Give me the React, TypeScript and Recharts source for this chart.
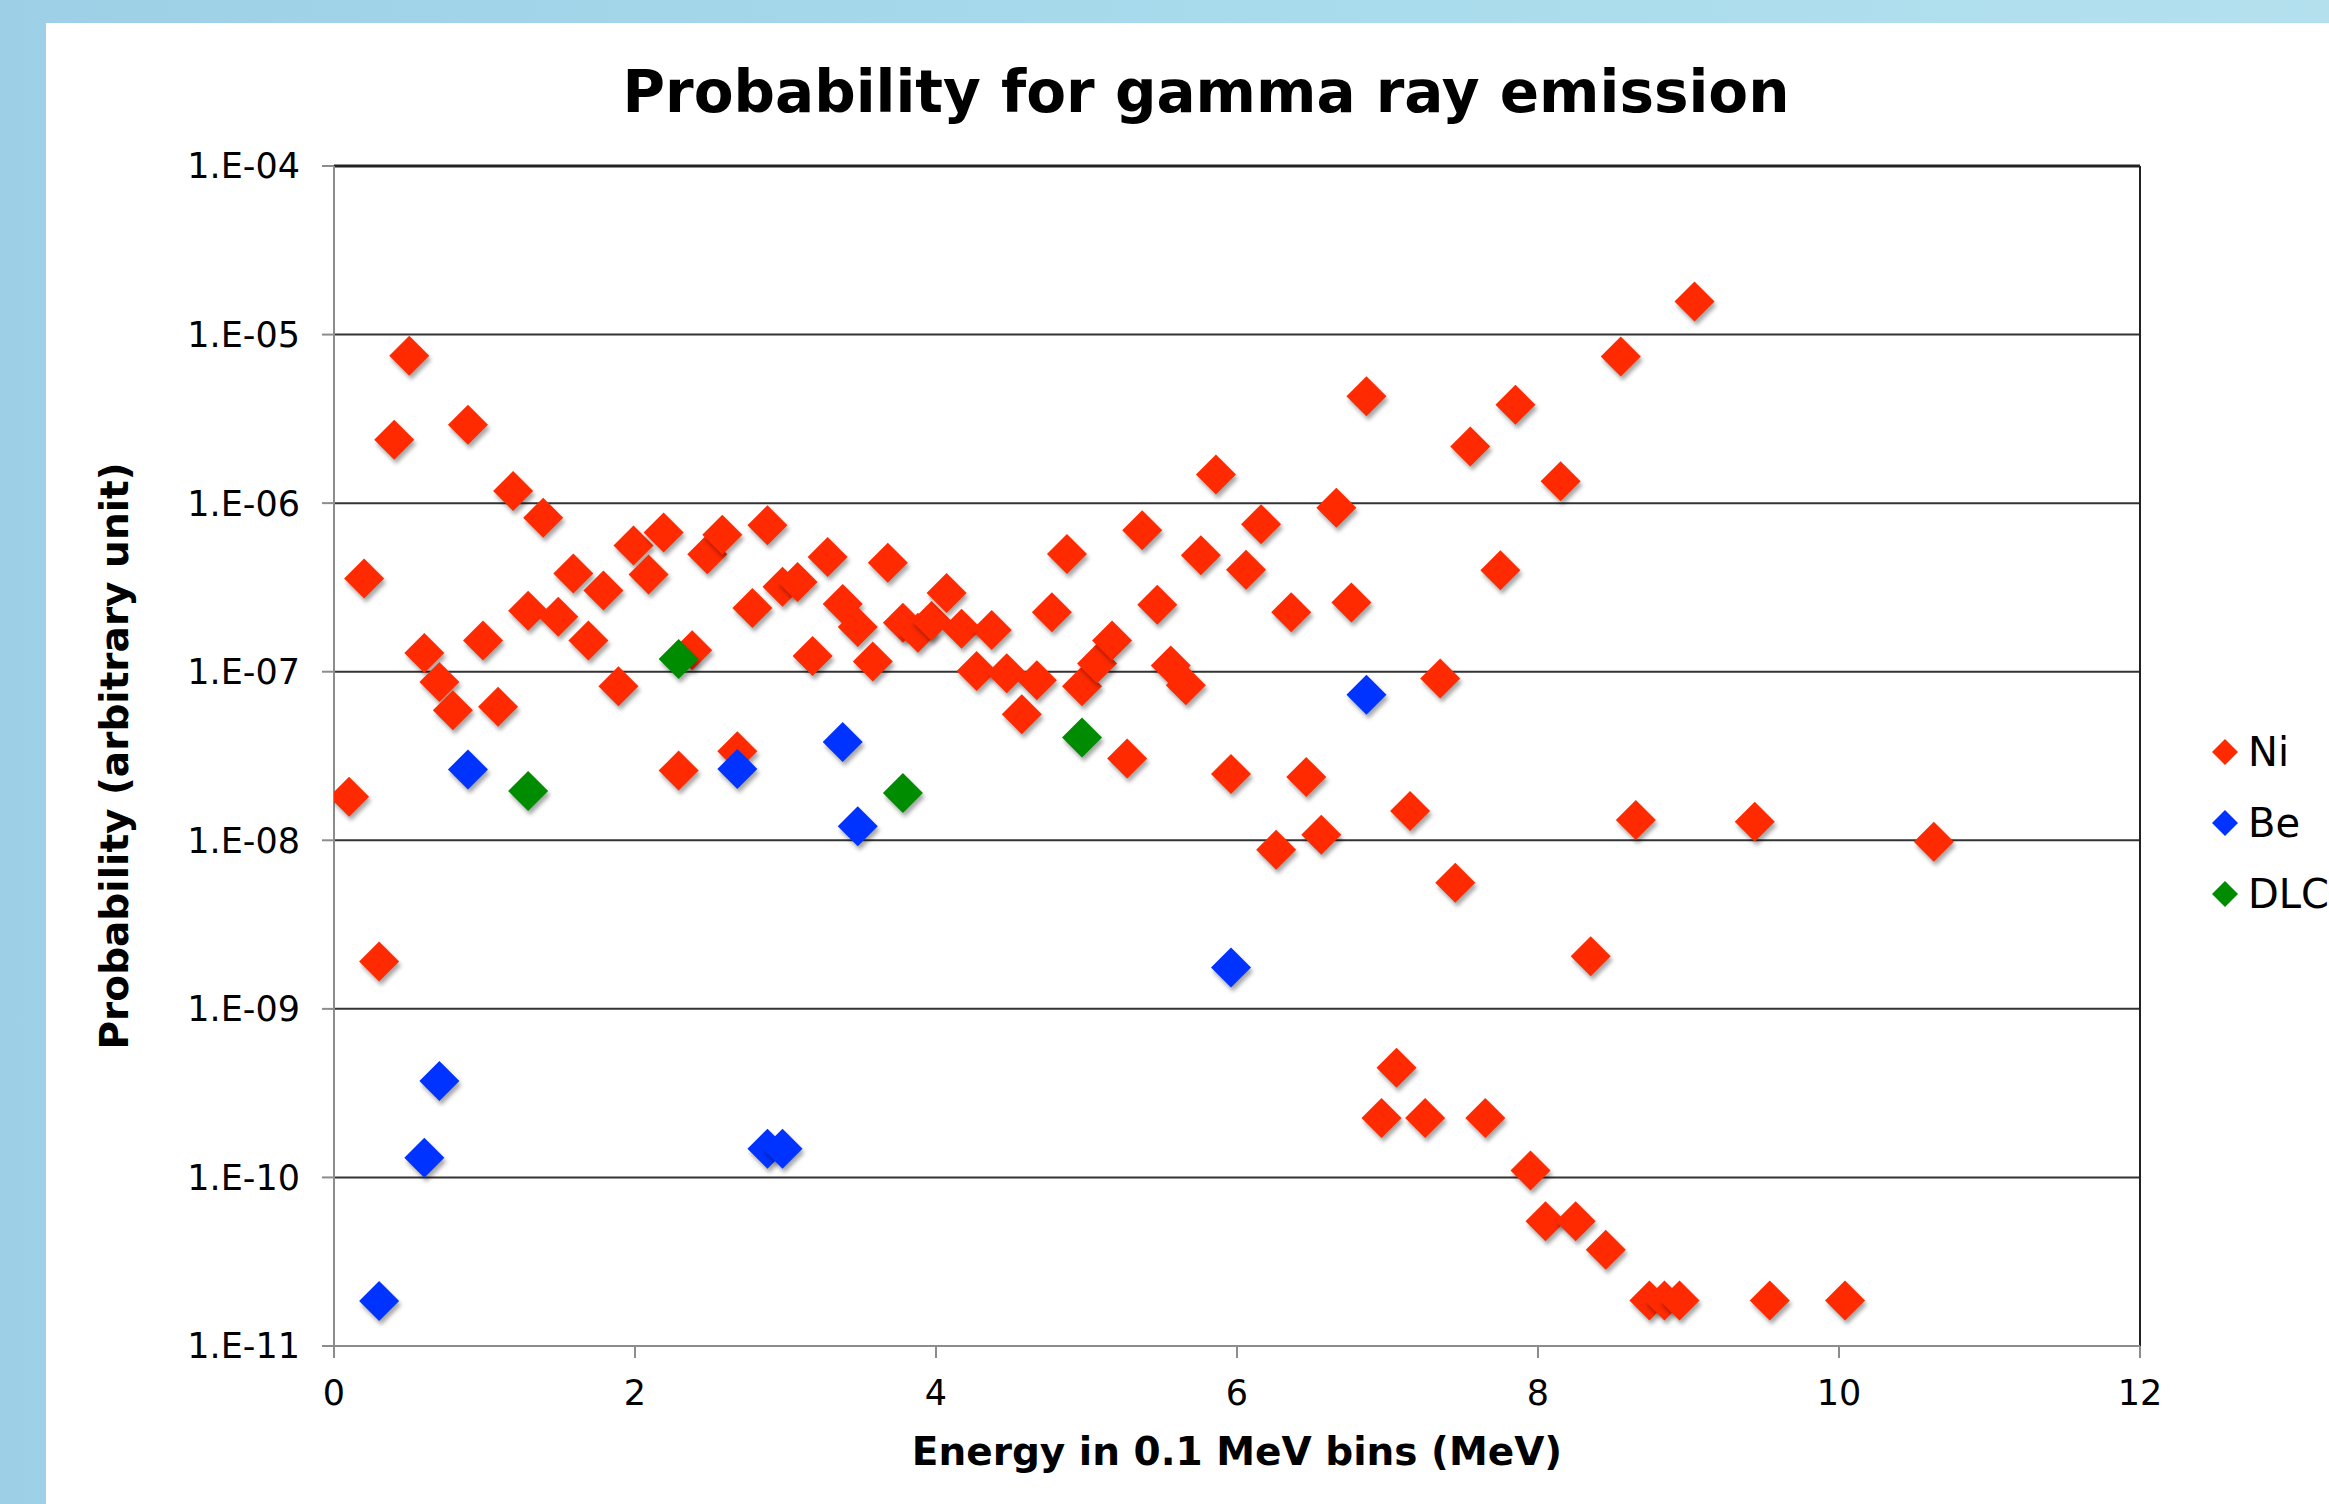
import React from 'react';
import { ScatterChart, Scatter, XAxis, YAxis, CartesianGrid, ReferenceLine } from 'recharts';

// ---- data ----
const niX = [0.10, 0.20, 0.30, 0.40, 0.50, 0.60, 0.70, 0.79, 0.89, 0.99, 1.09, 1.19, 1.29, 1.39, 1.49, 1.59, 1.69, 1.79, 1.89, 1.99, 2.09, 2.19, 2.29, 2.38, 2.48, 2.58, 2.68, 2.78, 2.88, 2.98, 3.08, 3.18, 3.28, 3.38, 3.48, 3.58, 3.68, 3.78, 3.88, 3.97, 4.07, 4.17, 4.27, 4.37, 4.47, 4.57, 4.67, 4.77, 4.87, 4.97, 5.07, 5.17, 5.27, 5.37, 5.47, 5.56, 5.66, 5.76, 5.86, 5.96, 6.06, 6.16, 6.26, 6.36, 6.46, 6.56, 6.66, 6.76, 6.86, 6.96, 7.06, 7.15, 7.25, 7.35, 7.45, 7.55, 7.65, 7.75, 7.85, 7.95, 8.05, 8.15, 8.25, 8.35, 8.45, 8.55, 8.65, 8.74, 8.84, 8.94, 9.04, 9.44, 9.54, 10.04, 10.63];
const niY = [1.81e-8, 3.57e-7, 1.91e-9, 2.38e-6, 7.5e-6, 1.29e-7, 8.7e-8, 5.9e-8, 2.92e-6, 1.53e-7, 6.2e-8, 1.18e-6, 2.3e-7, 8.2e-7, 2.12e-7, 3.83e-7, 1.53e-7, 3.03e-7, 8.2e-8, 5.6e-7, 3.77e-7, 6.7e-7, 2.59e-8, 1.34e-7, 4.98e-7, 6.5e-7, 3.37e-8, 2.39e-7, 7.4e-7, 3.19e-7, 3.41e-7, 1.24e-7, 4.8e-7, 2.52e-7, 1.84e-7, 1.15e-7, 4.43e-7, 1.95e-7, 1.7e-7, 2.0e-7, 2.93e-7, 1.8e-7, 1.01e-7, 1.77e-7, 9.8e-8, 5.6e-8, 8.9e-8, 2.25e-7, 5.0e-7, 8.2e-8, 1.12e-7, 1.53e-7, 3.06e-8, 6.9e-7, 2.5e-7, 1.09e-7, 8.3e-8, 4.9e-7, 1.48e-6, 2.47e-8, 4.03e-7, 7.5e-7, 8.8e-9, 2.25e-7, 2.37e-8, 1.08e-8, 9.4e-7, 2.57e-7, 4.3e-6, 2.25e-10, 4.47e-10, 1.49e-8, 2.25e-10, 9.1e-8, 5.6e-9, 2.17e-6, 2.25e-10, 4.0e-7, 3.84e-6, 1.1e-10, 5.5e-11, 1.35e-6, 5.5e-11, 2.05e-9, 3.72e-11, 7.4e-6, 1.32e-8, 1.86e-11, 1.86e-11, 1.86e-11, 1.57e-5, 1.29e-8, 1.86e-11, 1.86e-11, 9.8e-9];

const beX = [0.30, 0.60, 0.70, 0.89, 2.68, 2.88, 2.98, 3.38, 3.48, 5.96, 6.86];
const beY = [1.85e-11, 1.31e-10, 3.73e-10, 2.63e-8, 2.65e-8, 1.48e-10, 1.48e-10, 3.83e-8, 1.21e-8, 1.76e-9, 7.3e-8];

const dlcX = [1.29, 2.29, 3.78, 4.97];
const dlcY = [1.96e-8, 1.19e-7, 1.91e-8, 4.07e-8];

const seriesNames = ['Ni', 'Be', 'DLC'];
const seriesColors = ['#ff2a00', '#0033ff', '#008c00'];

const xTicks = [0, 2, 4, 6, 8, 10, 12];
const yTicks = [1e-11, 1e-10, 1e-9, 1e-8, 1e-7, 1e-6, 1e-5, 1e-4];
const yTickLabels = ['1.E-11', '1.E-10', '1.E-09', '1.E-08', '1.E-07', '1.E-06', '1.E-05', '1.E-04'];

const titleText = 'Probability for gamma ray emission';
const xTitle = 'Energy in 0.1 MeV bins (MeV)';
const yTitle = 'Probability (arbitrary unit)';

const toPoints = (xs: number[], ys: number[]) => xs.map((x, i) => ({ x, y: ys[i] }));
const niData = toPoints(niX, niY);
const beData = toPoints(beX, beY);
const dlcData = toPoints(dlcX, dlcY);

const FONT = '"DejaVu Sans", Verdana, sans-serif';

const makeDiamond = (color: string) => (props: any) => {
  const { cx, cy } = props;
  if (cx == null || cy == null) return <g />;
  const r = 20;
  return (
    <polygon
      points={`${cx},${cy - r} ${cx + r},${cy} ${cx},${cy + r} ${cx - r},${cy}`}
      fill={color}
      style={{ filter: 'drop-shadow(2px 4px 2px rgba(0,0,0,0.35))' }}
    />
  );
};

const yFmt = (v: number) => {
  const idx = yTicks.findIndex((t) => Math.abs(Math.log10(t) - Math.log10(v)) < 1e-6);
  return idx >= 0 ? yTickLabels[idx] : '';
};

export default function App() {
  const W = 2329;
  const H = 1504;
  return (
    <div style={{ position: 'fixed', left: 0, top: 0, width: W, height: H, background: 'linear-gradient(90deg, #9dd0e6 0%, #a9dcec 60%, #b4e0ee 100%)', overflow: 'hidden' }}>
      <div style={{ position: 'absolute', left: 46, top: 23, right: 0, bottom: 0, background: '#ffffff' }} />
      <div style={{ position: 'absolute', left: 0, top: 0 }}>
        <ScatterChart width={W} height={H} margin={{ top: 166, right: 189, bottom: 58, left: 0 }}>
          <CartesianGrid horizontal={true} vertical={false} stroke="#333333" strokeWidth={2} strokeDasharray="" />
          <XAxis
            type="number"
            dataKey="x"
            domain={[0, 12]}
            ticks={xTicks}
            allowDataOverflow
            height={100}
            stroke="#8c8c8c"
            strokeWidth={2}
            tickSize={12}
            tickMargin={22}
            tick={{ fill: '#000', fontSize: 35, fontFamily: FONT }}
            label={{ value: xTitle, position: 'bottom', offset: -9, fill: '#000', fontSize: 39, fontWeight: 'bold', fontFamily: FONT }}
          />
          <YAxis
            type="number"
            dataKey="y"
            scale="log"
            domain={[1e-11, 1e-4]}
            ticks={yTicks}
            allowDataOverflow
            width={334}
            stroke="#8c8c8c"
            strokeWidth={2}
            tickSize={12}
            tickMargin={22}
            tickFormatter={yFmt}
            tick={{ fill: '#000', fontSize: 35, fontFamily: FONT }}
            label={{ value: yTitle, angle: -90, position: 'insideLeft', offset: 114, fill: '#000', fontSize: 39, fontWeight: 'bold', fontFamily: FONT, style: { textAnchor: 'middle' } }}
          />
          <ReferenceLine x={12} stroke="#222" strokeWidth={2} ifOverflow="extendDomain" />
          <ReferenceLine y={1e-4} stroke="#222" strokeWidth={3} />
          <Scatter name={seriesNames[0]} data={niData} fill={seriesColors[0]} shape={makeDiamond(seriesColors[0])} isAnimationActive={false} />
          <Scatter name={seriesNames[1]} data={beData} fill={seriesColors[1]} shape={makeDiamond(seriesColors[1])} isAnimationActive={false} />
          <Scatter name={seriesNames[2]} data={dlcData} fill={seriesColors[2]} shape={makeDiamond(seriesColors[2])} isAnimationActive={false} />
        </ScatterChart>
      </div>
      <div style={{ position: 'absolute', left: 0, width: 2412, top: 56, textAlign: 'center', fontFamily: FONT, fontWeight: 'bold', fontSize: 58, color: '#000', lineHeight: '72px' }}>
        {titleText}
      </div>
      <div style={{ position: 'absolute', left: 2211, top: 716, fontFamily: FONT, fontSize: 40, color: '#000' }}>
        {seriesNames.map((n, i) => (
          <div key={n} style={{ display: 'flex', alignItems: 'center', height: 71 }}>
            <svg width={28} height={28} style={{ marginRight: 9 }}>
              <polygon points="14,1 27,14 14,27 1,14" fill={seriesColors[i]} />
            </svg>
            <span>{n}</span>
          </div>
        ))}
      </div>
    </div>
  );
}
